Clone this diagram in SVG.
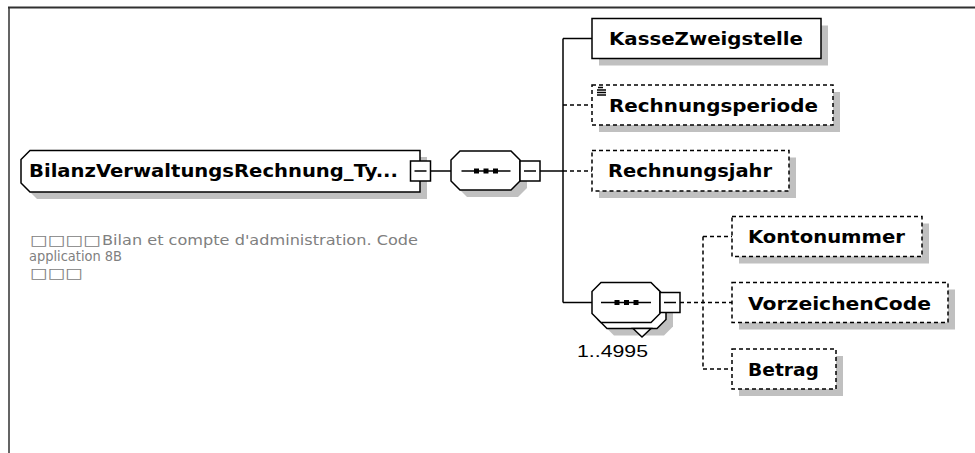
<svg xmlns="http://www.w3.org/2000/svg" width="975" height="453" viewBox="0 0 975 453">
<style>
.bg{fill:#ffffff}
.frame{stroke:#303030;fill:none}
.shadow{fill:#c0c0c0;stroke:none}
.box{fill:#ffffff;stroke:#000000;stroke-width:1.5}
.opt{fill:#ffffff;stroke:#000000;stroke-width:1.5;stroke-dasharray:4 3}
.lbl{font-family:"DejaVu Sans",Verdana,sans-serif;font-weight:bold;font-size:18px;fill:#000000}
.desc{font-family:"DejaVu Sans",Tahoma,sans-serif;font-size:14px;fill:#808080}
.mult{font-family:"Liberation Sans",Arial,sans-serif;font-size:17px;fill:#000000}
.con{stroke:#000000;stroke-width:1.5;fill:none}
.dcon{stroke:#000000;stroke-width:1.5;fill:none;stroke-dasharray:4 3}
.minus{fill:#ffffff;stroke:#000000;stroke-width:1.5}
.ln{stroke:#000000;stroke-width:1.5}
.dot{fill:#000000}
</style>
<rect class="bg" x="0" y="0" width="975" height="453"/>
<line class="frame" x1="8" y1="7.5" x2="975" y2="7.5" stroke-width="2"/>
<line class="frame" x1="9" y1="7" x2="9" y2="453" stroke-width="1.5"/>

<g id="connectors">
<line class="con" x1="430" y1="171" x2="451" y2="171"/>
<line class="con" x1="540" y1="171" x2="563" y2="171"/>
<line class="con" x1="563" y1="38.5" x2="563" y2="302.5"/>
<line class="con" x1="563" y1="38.5" x2="592" y2="38.5"/>
<line class="dcon" x1="563" y1="105" x2="592" y2="105"/>
<line class="dcon" x1="563" y1="171" x2="592" y2="171"/>
<line class="con" x1="563" y1="302.5" x2="592" y2="302.5"/>
<line class="dcon" x1="680" y1="302.5" x2="732" y2="302.5"/>
<line class="dcon" x1="703" y1="236.5" x2="703" y2="369"/>
<line class="dcon" x1="703" y1="236.5" x2="732" y2="236.5"/>
<line class="dcon" x1="703" y1="369" x2="732" y2="369"/>
</g>

<g id="root">
<polygon class="shadow" points="37,157 427,157 427,199 37,199 28,190 28,166"/>
<polygon class="box" points="30,150.5 420,150.5 420,192 30,192 21,183 21,159.5"/>
<text class="lbl" x="29" y="177" font-size="17" textLength="369" lengthAdjust="spacingAndGlyphs">BilanzVerwaltungsRechnung_Ty...</text>
<rect class="minus" x="410.5" y="161" width="20" height="20"/>
<line class="ln" x1="414.5" y1="171" x2="426.5" y2="171"/>
<text class="desc" x="30" y="244.5" font-size="16" textLength="71" lengthAdjust="spacingAndGlyphs">□□□□</text>
<text class="desc" x="102" y="244.5" textLength="316" lengthAdjust="spacingAndGlyphs">Bilan et compte d'administration. Code</text>
<text class="desc" x="29" y="261" textLength="93" lengthAdjust="spacingAndGlyphs">application 8B</text>
<text class="desc" x="30" y="278" font-size="16" textLength="53" lengthAdjust="spacingAndGlyphs">□□□</text>
</g>

<g id="seq1">
<polygon class="shadow" points="467,158 518,158 527,167 527,188 518,197 467,197 458,188 458,167"/>
<polygon class="box" points="460,151 511,151 520,160 520,181 511,190 460,190 451,181 451,160"/>
<line class="ln" x1="461.5" y1="171" x2="510.5" y2="171"/>
<rect class="dot" x="474" y="168.5" width="5" height="5"/>
<rect class="dot" x="483.5" y="168.5" width="5" height="5"/>
<rect class="dot" x="493" y="168.5" width="5" height="5"/>
<rect class="minus" x="520" y="161" width="20" height="20"/>
<line class="ln" x1="524" y1="171" x2="536" y2="171"/>
</g>

<g id="KasseZweigstelle">
<rect class="shadow" x="599" y="25.5" width="229" height="40"/>
<rect class="box" x="592" y="18.5" width="229" height="40"/>
<text class="lbl" x="609" y="45" textLength="194" lengthAdjust="spacingAndGlyphs">KasseZweigstelle</text>
</g>

<g id="Rechnungsperiode">
<rect class="shadow" x="599" y="92" width="241" height="40"/>
<rect class="opt" x="592" y="85" width="241" height="40"/>
<line class="ln" x1="598" y1="87.5" x2="603" y2="87.5" stroke-width="1"/>
<line class="ln" x1="597" y1="90" x2="606" y2="90" stroke-width="1"/>
<line class="ln" x1="597" y1="92.5" x2="606" y2="92.5" stroke-width="1"/>
<line class="ln" x1="597" y1="95" x2="606" y2="95" stroke-width="1"/>
<text class="lbl" x="609" y="111.5" textLength="209" lengthAdjust="spacingAndGlyphs">Rechnungsperiode</text>
</g>

<g id="Rechnungsjahr">
<rect class="shadow" x="599" y="157.5" width="197" height="40.5"/>
<rect class="opt" x="592" y="150.5" width="197" height="40.5"/>
<text class="lbl" x="608" y="177" textLength="164" lengthAdjust="spacingAndGlyphs">Rechnungsjahr</text>
</g>

<g id="seq2">
<polygon class="shadow" points="614,295.5 664,295.5 673,304.5 673,326.5 664,335.5 614,335.5 605,326.5 605,304.5"/>
<polygon class="box" points="607,288.5 657,288.5 666,297.5 666,319.5 657,328.5 607,328.5 598,319.5 598,297.5"/>
<polygon class="box" points="633,328.5 642,337 651,328.5"/>
<polygon class="box" points="601,282.5 651,282.5 660,291.5 660,313.5 651,322.5 601,322.5 592,313.5 592,291.5"/>
<line class="ln" x1="601" y1="302.5" x2="651" y2="302.5"/>
<rect class="dot" x="614.5" y="300" width="5" height="5"/>
<rect class="dot" x="624" y="300" width="5" height="5"/>
<rect class="dot" x="633.5" y="300" width="5" height="5"/>
<rect class="minus" x="660" y="292.5" width="20" height="20"/>
<line class="ln" x1="664" y1="302.5" x2="676" y2="302.5"/>
<text class="mult" x="577" y="357" textLength="71" lengthAdjust="spacingAndGlyphs">1..4995</text>
</g>

<g id="Kontonummer">
<rect class="shadow" x="739" y="223.5" width="190" height="40"/>
<rect class="opt" x="732" y="216.5" width="190" height="40"/>
<text class="lbl" x="748" y="243" textLength="157" lengthAdjust="spacingAndGlyphs">Kontonummer</text>
</g>

<g id="VorzeichenCode">
<rect class="shadow" x="739" y="289.5" width="216" height="40"/>
<rect class="opt" x="732" y="282.5" width="216" height="40"/>
<text class="lbl" x="748" y="309.5" textLength="183" lengthAdjust="spacingAndGlyphs">VorzeichenCode</text>
</g>

<g id="Betrag">
<rect class="shadow" x="739" y="356" width="104" height="40"/>
<rect class="opt" x="732" y="349" width="104" height="40"/>
<text class="lbl" x="748" y="375.5" textLength="71" lengthAdjust="spacingAndGlyphs">Betrag</text>
</g>
</svg>
